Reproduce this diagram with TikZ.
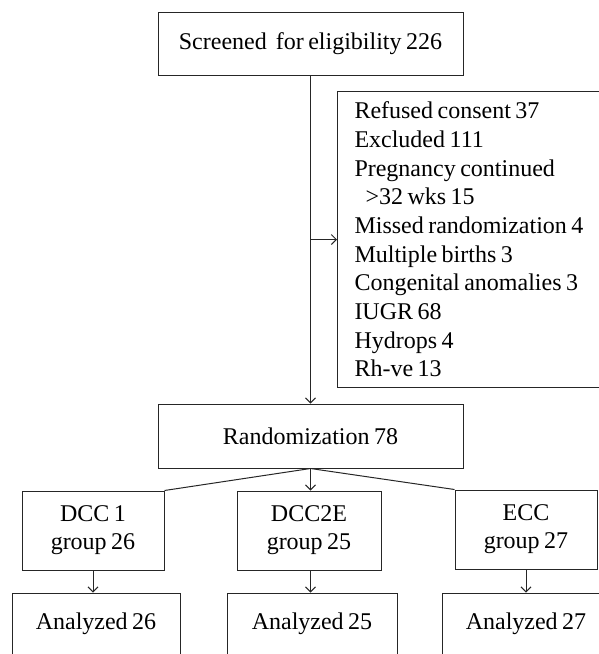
\documentclass[tikz,border=0pt]{standalone}
\usepackage{fontspec}
\setmainfont{Liberation Serif}[WordSpace=0.75]
\usetikzlibrary{arrows.meta}
\begin{document}
\begin{tikzpicture}[x=1pt,y=-1pt,
  box/.style={draw=black!85, line width=1pt, rectangle, inner sep=0pt, align=center,
    font=\fontsize{24}{28}\selectfont},
  con/.style={draw=black!85, line width=1pt},
  arr/.style={con, -{Straight Barb[length=5pt,width=10pt]}}]
\useasboundingbox (0,0) rectangle (599,654);
\clip (0,0) rectangle (599,654);
\node[box, minimum width=305pt, minimum height=63pt] (top) at (310.5,43.5) {Screened\ \ for eligibility 226};
\node[box, anchor=north west, minimum height=296pt, text width=269pt, inner xsep=17pt, inner ysep=0pt,
  align=flush left, font=\fontsize{24}{28.7}\selectfont] (side) at (337,91)
  {Refused consent 37\\
   Excluded 111\\
   Pregnancy continued\\
   \hspace*{11pt}>32 wks 15\\
   Missed randomization 4\\
   Multiple births 3\\
   Congenital anomalies 3\\
   IUGR 68\\
   Hydrops 4\\
   Rh-ve 13};
\node[box, minimum width=305pt, minimum height=64pt] (rand) at (310.5,436) {Randomization 78};
\node[box, minimum width=142pt, minimum height=79pt] (dcc1) at (93,530.5) {DCC 1\\group 26};
\node[box, minimum width=144pt, minimum height=79pt] (dcc2) at (309,530.5) {DCC2E\\group 25};
\node[box, minimum width=142pt, minimum height=79pt] (ecc) at (526,529.5) {ECC\\group 27};
\node[box, minimum width=168pt, minimum height=62pt] (an1) at (96,624) {Analyzed 26};
\node[box, minimum width=170pt, minimum height=62pt] (an2) at (312,624) {Analyzed 25};
\node[box, minimum width=168pt, minimum height=62pt] (an3) at (526,624) {Analyzed 27};
\draw[arr] (top.south) -- (rand.north) coordinate[pos=0.5] (j);
\draw[arr] (j) -- (j -| side.west);
\draw[con] (rand.south) -- (dcc1.north east);
\draw[con] (rand.south) -- (ecc.north west);
\draw[arr] (rand.south) -- (rand.south |- dcc2.north);
\draw[arr] (dcc1.south) -- (dcc1.south |- an1.north);
\draw[arr] (dcc2.south -| rand.south) -- (rand.south |- an2.north);
\draw[arr] (ecc.south) -- (ecc.south |- an3.north);
\end{tikzpicture}
\end{document}
